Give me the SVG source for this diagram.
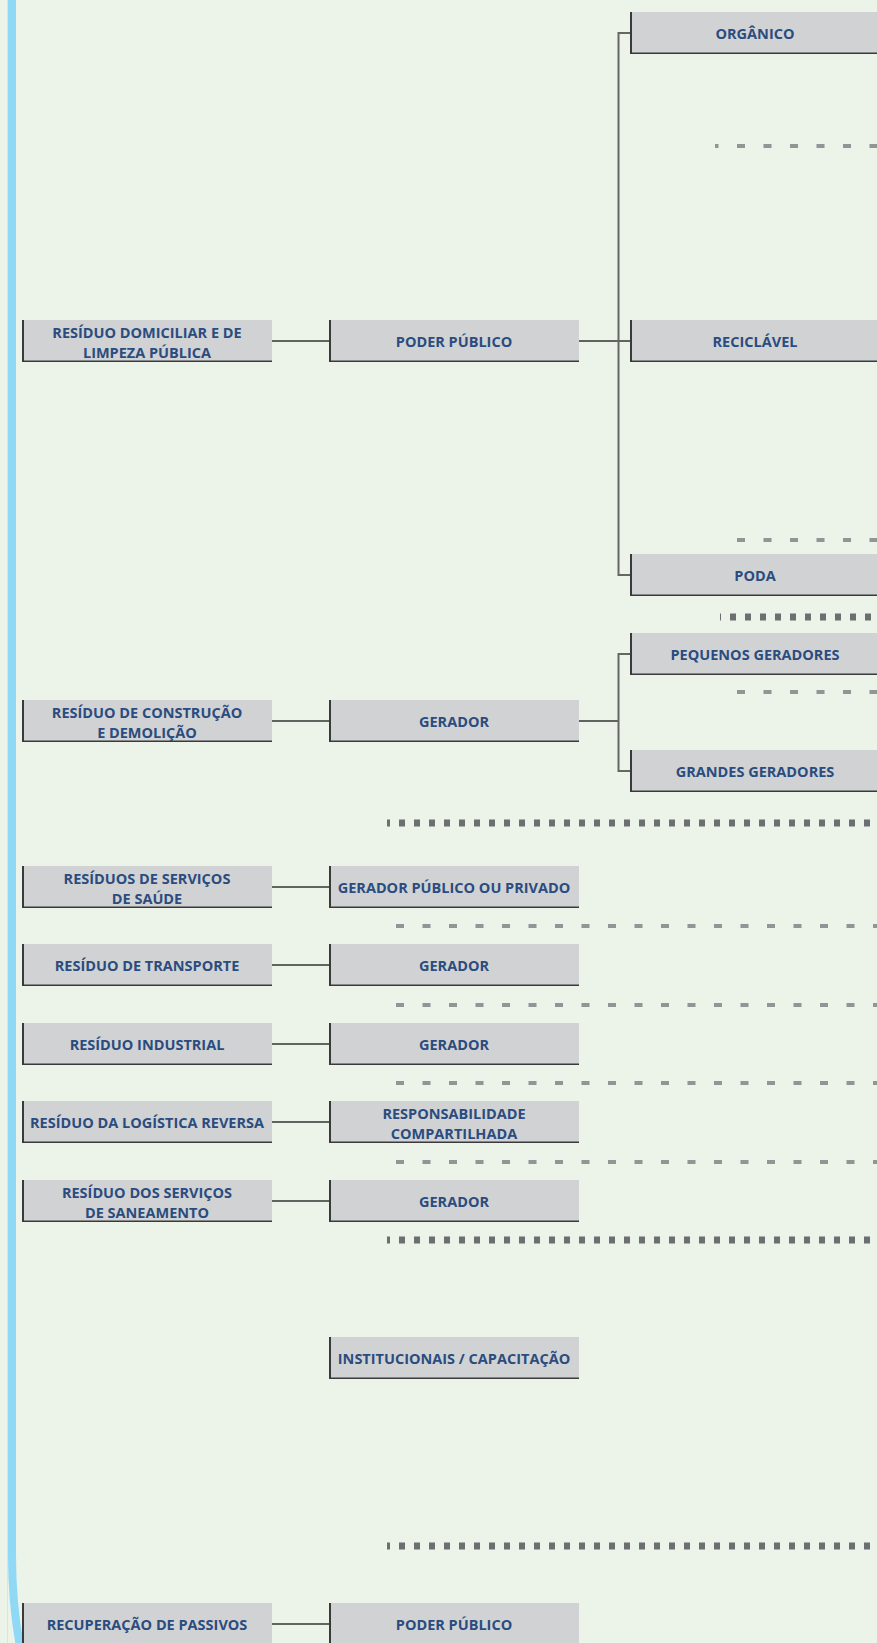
<svg xmlns="http://www.w3.org/2000/svg" xmlns:xlink="http://www.w3.org/1999/xlink" width="877" height="1643" viewBox="0 0 877 1643">
<style>
.f{fill:#d1d2d4}
.el{stroke:#3a3a3a;stroke-width:2;fill:none}
.eb{stroke:#3a3a3a;stroke-width:1.5;fill:none}
text{font-family:"Open Sans","Liberation Sans",sans-serif;font-weight:700;font-size:14.5px;fill:#2b4c7e;text-anchor:middle}
.c{stroke:#333333;stroke-width:1.6;fill:none}
.t{stroke:#666666;stroke-width:2;fill:none}
.d{stroke:#929496;stroke-width:4;stroke-dasharray:8 18.5;fill:none}
.s{stroke:#6d6e70;stroke-width:7;stroke-dasharray:6 9;fill:none}
</style>
<defs>
<symbol id="box" overflow="visible">
<rect class="f" x="0" y="0" width="250" height="42"/>
<path class="el" d="M1,0V42"/>
<path class="eb" d="M0,41.25H250"/>
</symbol>
</defs>
<rect x="0" y="0" width="877" height="1643" fill="#ecf3e8"/>
<path d="M7.5,0V1643" stroke="#dde7d9" stroke-width="1" fill="none"/>
<path d="M12,-5V1555Q12,1615 24,1665" stroke="#8fd8f6" stroke-width="8" fill="none"/>

<g id="separators">
<path class="d" d="M715,146H877" stroke-dashoffset="4.5"/>
<path class="d" d="M737,540H877"/>
<path class="s" d="M720,617H877" stroke-dashoffset="5"/>
<path class="d" d="M737,692H877"/>
<path class="s" d="M387,823H877" stroke-dashoffset="3"/>
<path class="d" d="M396,926H877"/>
<path class="d" d="M396,1005H877"/>
<path class="d" d="M396,1083H877"/>
<path class="d" d="M396,1162H877"/>
<path class="s" d="M387,1240H877" stroke-dashoffset="3"/>
<path class="s" d="M387,1546H877" stroke-dashoffset="3"/>
</g>

<g id="connectors">
<path class="c" d="M272,341H329"/>
<path class="c" d="M579,341H630"/>
<path class="t" d="M630,33H618.5V575H630"/>
<path class="c" d="M272,721H329"/>
<path class="c" d="M579,721H618.5"/>
<path class="t" d="M630,654H618.5V771H630"/>
<path class="c" d="M272,887H329"/>
<path class="c" d="M272,965H329"/>
<path class="c" d="M272,1044H329"/>
<path class="c" d="M272,1122H329"/>
<path class="c" d="M272,1201H329"/>
<path class="c" d="M272,1624H329"/>
</g>

<g id="n-organico"><use xlink:href="#box" x="630" y="12"/><text x="755" y="38.5">ORGÂNICO</text></g>
<g id="n-domiciliar"><use xlink:href="#box" x="22" y="320"/><text x="147" y="338">RESÍDUO DOMICILIAR E DE</text><text x="147" y="358">LIMPEZA PÚBLICA</text></g>
<g id="n-poder1"><use xlink:href="#box" x="329" y="320"/><text x="454" y="346.5">PODER PÚBLICO</text></g>
<g id="n-reciclavel"><use xlink:href="#box" x="630" y="320"/><text x="755" y="346.5">RECICLÁVEL</text></g>
<g id="n-poda"><use xlink:href="#box" x="630" y="554"/><text x="755" y="580.5">PODA</text></g>
<g id="n-pequenos"><use xlink:href="#box" x="630" y="633"/><text x="755" y="659.5">PEQUENOS GERADORES</text></g>
<g id="n-construcao"><use xlink:href="#box" x="22" y="700"/><text x="147" y="718">RESÍDUO DE CONSTRUÇÃO</text><text x="147" y="738">E DEMOLIÇÃO</text></g>
<g id="n-gerador1"><use xlink:href="#box" x="329" y="700"/><text x="454" y="726.5">GERADOR</text></g>
<g id="n-grandes"><use xlink:href="#box" x="630" y="750"/><text x="755" y="776.5">GRANDES GERADORES</text></g>
<g id="n-saude"><use xlink:href="#box" x="22" y="866"/><text x="147" y="884">RESÍDUOS DE SERVIÇOS</text><text x="147" y="904">DE SAÚDE</text></g>
<g id="n-gerador-pp"><use xlink:href="#box" x="329" y="866"/><text x="454" y="892.5">GERADOR PÚBLICO OU PRIVADO</text></g>
<g id="n-transporte"><use xlink:href="#box" x="22" y="944"/><text x="147" y="970.5">RESÍDUO DE TRANSPORTE</text></g>
<g id="n-gerador2"><use xlink:href="#box" x="329" y="944"/><text x="454" y="970.5">GERADOR</text></g>
<g id="n-industrial"><use xlink:href="#box" x="22" y="1023"/><text x="147" y="1049.5">RESÍDUO INDUSTRIAL</text></g>
<g id="n-gerador3"><use xlink:href="#box" x="329" y="1023"/><text x="454" y="1049.5">GERADOR</text></g>
<g id="n-logistica"><use xlink:href="#box" x="22" y="1101"/><text x="147" y="1127.5">RESÍDUO DA LOGÍSTICA REVERSA</text></g>
<g id="n-responsabilidade"><use xlink:href="#box" x="329" y="1101"/><text x="454" y="1119">RESPONSABILIDADE</text><text x="454" y="1139">COMPARTILHADA</text></g>
<g id="n-saneamento"><use xlink:href="#box" x="22" y="1180"/><text x="147" y="1198">RESÍDUO DOS SERVIÇOS</text><text x="147" y="1218">DE SANEAMENTO</text></g>
<g id="n-gerador4"><use xlink:href="#box" x="329" y="1180"/><text x="454" y="1206.5">GERADOR</text></g>
<g id="n-institucionais"><use xlink:href="#box" x="329" y="1337"/><text x="454" y="1363.5">INSTITUCIONAIS / CAPACITAÇÃO</text></g>
<g id="n-recuperacao"><use xlink:href="#box" x="22" y="1603"/><text x="147" y="1629.5">RECUPERAÇÃO DE PASSIVOS</text></g>
<g id="n-poder2"><use xlink:href="#box" x="329" y="1603"/><text x="454" y="1629.5">PODER PÚBLICO</text></g>
</svg>
